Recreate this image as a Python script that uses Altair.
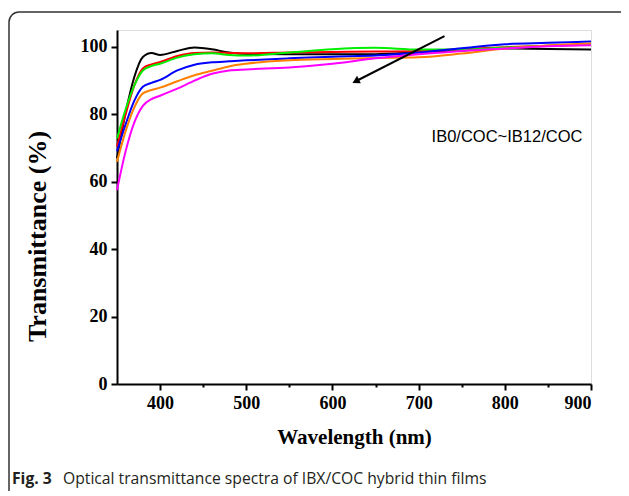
import altair as alt
import pandas as pd

wavelength = [350, 360, 370, 380, 390, 400, 420, 440, 460, 480, 500, 550, 600, 650, 700, 750, 800, 850, 900]

ib_black = [67.0, 80.5, 91.0, 97.0, 98.2, 97.6, 98.8, 99.8, 99.3, 98.3, 97.9, 97.8, 97.8, 97.8, 98.4, 98.9, 99.5, 99.4, 99.2]
ib_red = [70.4, 80.0, 88.5, 93.6, 94.8, 95.5, 97.3, 98.2, 98.3, 98.2, 98.1, 98.3, 98.5, 98.6, 98.8, 99.3, 99.9, 100.3, 100.6]
ib_green = [72.8, 81.5, 88.5, 93.0, 94.3, 95.0, 96.8, 97.8, 98.1, 97.6, 97.4, 98.3, 99.3, 99.7, 99.2, 99.2, 99.8, 100.3, 100.8]
ib_blue = [69.0, 77.0, 84.0, 88.2, 89.3, 90.2, 93.0, 94.7, 95.4, 95.7, 96.0, 96.6, 97.1, 97.4, 98.3, 99.6, 100.8, 101.2, 101.6]
ib_orange = [65.9, 75.0, 82.0, 86.2, 87.2, 87.9, 89.8, 91.6, 92.9, 94.2, 95.0, 96.0, 96.4, 96.7, 96.9, 98.0, 99.5, 100.4, 101.0]
ib_magenta = [57.5, 69.0, 77.5, 82.5, 84.5, 85.5, 87.6, 90.0, 92.0, 93.0, 93.3, 93.9, 95.0, 96.6, 97.8, 98.8, 99.5, 100.2, 100.5]

series_names = ["black", "red", "green", "blue", "orange", "magenta"]
series_values = [ib_black, ib_red, ib_green, ib_blue, ib_orange, ib_magenta]
series_colors = ["#000000", "#ff0000", "#00ee00", "#0000ff", "#ff8000", "#ff00ff"]

x_ticks = list(range(400, 901, 50))
y_ticks = list(range(0, 101, 10))

annotation_text = ["IB0/COC~IB12/COC"]
annotation_pos = [(715, 73.2)]
arrow_tail = (730, 103.2)
arrow_head = (627, 89.8)

caption_bold = "Fig. 3"
caption_rest = "Optical transmittance spectra of IBX/COC hybrid thin films"

rows = []
for name, vals in zip(series_names, series_values):
    for i, (w, v) in enumerate(zip(wavelength, vals)):
        rows.append({"series": name, "wavelength": w, "T": v, "idx": i})
df = pd.DataFrame(rows)

serif = "Liberation Serif"

x_enc = alt.X(
    "wavelength:Q",
    scale=alt.Scale(domain=[350, 900], nice=False, zero=False),
    axis=alt.Axis(
        values=x_ticks,
        labelExpr="datum.value % 100 === 0 ? datum.label : ''",
        tickSize={"condition": {"test": "datum.value % 100 === 0", "value": 6}, "value": 3},
        title="Wavelength (nm)",
        titleFont=serif, titleFontSize=21, titleFontWeight="bold", titleColor="black",
        labelFont=serif, labelFontSize=18, labelFontWeight="bold", labelColor="black",
        labelPadding=4, titlePadding=14,
        domainColor="black", domainWidth=2, tickColor="black", tickWidth=2,
        grid=False, labelOverlap=False,
    ),
)
y_enc = alt.Y(
    "T:Q",
    scale=alt.Scale(domain=[0, 105], nice=False),
    axis=alt.Axis(
        values=y_ticks,
        labelExpr="datum.value % 20 === 0 ? datum.label : ''",
        tickSize={"condition": {"test": "datum.value % 20 === 0", "value": 6}, "value": 3},
        title="Transmittance (%)",
        titleFont=serif, titleFontSize=26, titleFontWeight="bold", titleColor="black",
        titleX=-80, titleY=206, titleAngle=270, titleAlign="center", titleBaseline="middle",
        labelFont=serif, labelFontSize=18, labelFontWeight="bold", labelColor="black",
        labelPadding=4,
        domainColor="black", domainWidth=2, tickColor="black", tickWidth=2,
        grid=False, labelOverlap=False,
    ),
)

lines = alt.Chart(df).mark_line(strokeWidth=2, interpolate="monotone").encode(
    x=x_enc,
    y=y_enc,
    color=alt.Color("series:N", scale=alt.Scale(domain=series_names, range=series_colors), legend=None),
    order="idx:Q",
)

ann_df = pd.DataFrame({"wavelength": [p[0] for p in annotation_pos], "T": [p[1] for p in annotation_pos], "label": annotation_text})
ann = alt.Chart(ann_df).mark_text(align="left", baseline="middle", font="Liberation Sans", fontSize=16.5, color="black").encode(
    x="wavelength:Q", y="T:Q", text="label:N"
)

arrow_df = pd.DataFrame({"wavelength": [arrow_tail[0]], "T": [arrow_tail[1]], "w2": [arrow_head[0]], "T2": [arrow_head[1]]})
arrow_line = alt.Chart(arrow_df).mark_rule(color="black", strokeWidth=2).encode(
    x="wavelength:Q", y="T:Q", x2="w2:Q", y2="T2:Q"
)
head_df = pd.DataFrame({"wavelength": [arrow_head[0]], "T": [arrow_head[1]]})
arrow_head_mark = alt.Chart(head_df).mark_point(shape="triangle-up", filled=True, size=70, angle=243, color="black", opacity=1).encode(
    x="wavelength:Q", y="T:Q"
)

frame = alt.Chart(ann_df).mark_rect(fill=None, stroke="#333333", strokeWidth=1.5, cornerRadius=10).encode(
    x=alt.value(-108), x2=alt.value(530), y=alt.value(-18), y2=alt.value(475)
)

cap1 = alt.Chart(ann_df).mark_text(align="left", baseline="alphabetic", font="Open Sans", fontWeight="bold", fontSize=15.7, color="#231f20").encode(
    x=alt.value(-105), y=alt.value(454), text=alt.value(caption_bold)
)
cap2 = alt.Chart(ann_df).mark_text(align="left", baseline="alphabetic", font="Open Sans", fontSize=15.7, color="#231f20").encode(
    x=alt.value(-54), y=alt.value(454), text=alt.value(caption_rest)
)

chart = alt.layer(frame, lines, arrow_line, arrow_head_mark, ann, cap1, cap2).properties(
    width=474,
    height=354,
    autosize=alt.AutoSizeParams(type="none"),
    padding={"left": 109, "top": 22, "right": 30, "bottom": 107},
).configure_view(stroke="black", strokeWidth=2).configure(background="white")

chart.save("out.html", embed_options={"renderer": "svg", "actions": False})
